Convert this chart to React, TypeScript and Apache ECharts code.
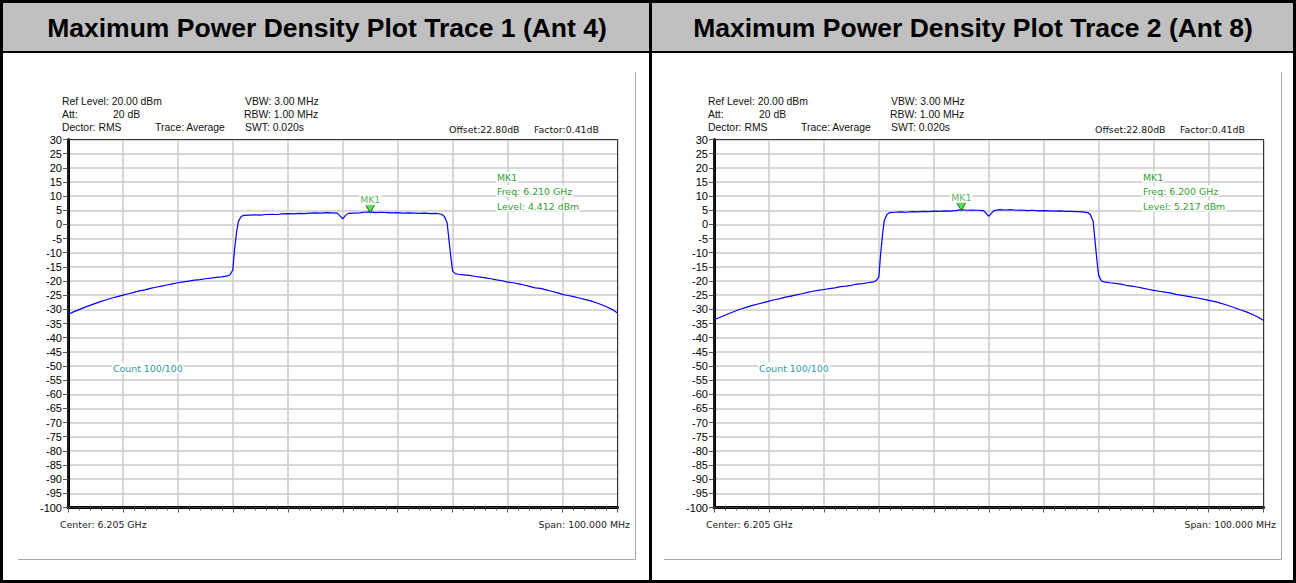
import React, { useEffect, useRef } from "react";
import * as echarts from "echarts";

// Frequency offset from start of span (MHz); span 6.155 GHz .. 6.255 GHz
const FREQ_MHZ = [
  0, 1, 2, 3, 4, 5, 6, 7, 8, 9, 10, 11, 12, 13, 14, 15, 16, 17, 18, 19, 20, 21, 22, 23, 24, 25, 26, 27, 28, 29,
  29.5, 30, 30.3, 30.7, 31, 31.5,
  32, 33, 34, 35, 36, 37, 38, 39, 40, 41, 42, 43, 44, 45, 46, 47, 48, 49,
  49.5, 50, 50.5,
  51, 52, 53, 54, 55, 56, 57, 58, 59, 60, 61, 62, 63, 64, 65, 66, 67, 68,
  68.5, 69, 69.3, 69.7, 70, 70.5,
  71, 72, 73, 74, 75, 76, 77, 78, 79, 80, 81, 82, 83, 84, 85, 86, 87, 88, 89, 90, 91, 92, 93, 94, 95, 96, 97, 98, 99, 100,
];

const ANT4_DBM = [
  -31.8, -30.9, -30.1, -29.3, -28.6, -27.9, -27.2, -26.6, -26.0, -25.5, -25.0, -24.5, -24.0, -23.5, -23.1, -22.6, -22.2, -21.8, -21.4, -21.0, -20.6, -20.3, -20.0, -19.7, -19.5, -19.2, -19.0, -18.7, -18.5, -18.2,
  -17.8, -16.0, -9.0, -2.5, 1.0, 2.8,
  3.2, 3.3, 3.4, 3.3, 3.5, 3.6, 3.5, 3.7, 3.8, 3.7, 3.9, 3.8, 4.0, 4.1, 4.0, 4.2, 4.1, 4.0,
  3.0, 2.0, 3.2,
  3.9, 4.0, 4.1, 4.3, 4.412, 4.2, 4.3, 4.2, 4.1, 4.2, 4.0, 4.1, 4.0, 3.9, 4.0, 3.8, 3.9, 3.6,
  2.8, 0.5, -5.0, -12.0, -16.5, -17.4,
  -17.6, -17.8, -18.0, -18.3, -18.6, -18.9, -19.2, -19.6, -19.9, -20.4, -20.6, -21.0, -21.4, -21.9, -22.4, -22.6, -23.1, -23.6, -24.1, -24.7, -25.1, -25.5, -26.0, -26.5, -26.9, -27.6, -28.3, -29.1, -30.0, -31.3,
];

const ANT8_DBM = [
  -33.7, -32.9, -32.1, -31.3, -30.5, -29.8, -29.2, -28.6, -28.1, -27.6, -27.1, -26.6, -26.2, -25.7, -25.3, -24.9, -24.5, -24.0, -23.6, -23.3, -23.0, -22.7, -22.4, -22.0, -21.8, -21.5, -21.1, -20.9, -20.6, -20.3,
  -19.9, -18.5, -11.0, -3.0, 1.5, 3.6,
  4.2, 4.3, 4.4, 4.3, 4.5, 4.4, 4.6, 4.5, 4.7, 4.6, 4.8, 4.7, 4.9, 5.217, 5.0, 5.1, 5.0, 4.9,
  4.0, 2.8, 4.0,
  4.9, 5.2, 5.1, 5.2, 5.0, 5.1, 4.9, 5.0, 4.8, 4.9, 4.8, 4.7, 4.8, 4.6, 4.6, 4.5, 4.4, 4.2,
  3.4, 1.0, -5.0, -13.0, -18.0, -20.0,
  -20.3, -20.6, -20.8, -21.1, -21.5, -21.8, -22.1, -22.5, -22.9, -23.3, -23.6, -23.9, -24.2, -24.7, -25.0, -25.3, -25.7, -26.0, -26.4, -26.8, -27.2, -27.7, -28.3, -28.9, -29.6, -30.3, -31.0, -31.8, -32.7, -33.9,
];

const TRACES = [ANT4_DBM, ANT8_DBM];
const TITLES = [
  "Maximum Power Density Plot Trace 1 (Ant 4)",
  "Maximum Power Density Plot Trace 2 (Ant 8)",
];
const MARKER_FREQ_MHZ = [55, 45];
const MARKER_LEVEL_DBM = [4.412, 5.217];
const MARKER_FREQ_TEXT = ["6.210 GHz", "6.200 GHz"];

const X_MIN = 0;
const X_MAX = 100;
const X_STEP = 10;
const Y_MIN = -100;
const Y_MAX = 30;
const Y_STEP = 5;

const PANEL_DX = [0, 646];
const GRID_LEFT = 68;
const GRID_TOP = 139.5;
const GRID_W = 549.5;
const GRID_H = 368;

const SANS = "Liberation Sans";
const TAHOMA = "DejaVu Sans";

function txt(x: number, y: number, text: string, opts: any = {}) {
  return {
    type: "text",
    x,
    y,
    z: 100,
    silent: true,
    style: {
      text,
      fill: opts.fill || "#000",
      fontFamily: opts.fontFamily || SANS,
      fontSize: opts.fontSize || 10.3,
      fontWeight: opts.fontWeight || "normal",
      align: opts.align || "left",
      verticalAlign: "middle",
      backgroundColor: opts.bg,
      padding: opts.bg ? [1, 1] : 0,
    },
  };
}

function panelGraphics(p: number) {
  const dx = PANEL_DX[p];
  const g: any[] = [];
  const info = { fontFamily: SANS, fontSize: 10.4, fill: "#111" };
  const tah = { fontFamily: TAHOMA, fontSize: 9.4, fill: "#111" };
  const green = { fontFamily: TAHOMA, fontSize: 9.4, fill: "#30a030", bg: "#fff" };
  g.push(txt(62 + dx, 101, "Ref Level: 20.00 dBm", info));
  g.push(txt(62 + dx, 114, "Att:", info));
  g.push(txt(113 + dx, 114, "20 dB", info));
  g.push(txt(62 + dx, 127, "Dector: RMS", info));
  g.push(txt(155 + dx, 127, "Trace: Average", info));
  g.push(txt(245 + dx, 101, "VBW: 3.00 MHz", info));
  g.push(txt(244 + dx, 114, "RBW: 1.00 MHz", info));
  g.push(txt(245 + dx, 127, "SWT: 0.020s", info));
  g.push(txt(449 + dx, 129, "Offset:22.80dB", tah));
  g.push(txt(534 + dx, 129, "Factor:0.41dB", tah));
  g.push(txt(496 + dx, 177, "MK1", green));
  g.push(txt(496 + dx, 191, "Freq: " + MARKER_FREQ_TEXT[p], green));
  g.push(txt(496 + dx, 206, "Level: " + MARKER_LEVEL_DBM[p].toFixed(3) + " dBm", green));
  g.push(txt(112 + dx, 368, "Count 100/100", { ...tah, fill: "#2a9aa4", bg: "#fff" }));
  g.push(txt(60 + dx, 524, "Center: 6.205 GHz", { ...tah, fill: "#222" }));
  g.push(txt(630 + dx, 524, "Span: 100.000 MHz", { ...tah, fill: "#222", align: "right" }));
  // plot frame (top/right thin)
  g.push({
    type: "rect",
    z: 90,
    silent: true,
    shape: { x: GRID_LEFT + dx, y: GRID_TOP, width: GRID_W, height: GRID_H },
    style: { fill: "none", stroke: "#333", lineWidth: 1 },
  });
  // screenshot frame (right + bottom)
  g.push({
    type: "polyline",
    z: 90,
    silent: true,
    shape: { points: [[635.5 + dx, 72], [635.5 + dx, 559.5], [18 + dx, 559.5]] },
    style: { fill: "none", stroke: "#a8a8a8", lineWidth: 1 },
  });
  // title
  g.push(
    txt(p === 0 ? 327 : 973, 28, TITLES[p], {
      fontFamily: SANS,
      fontSize: 26.5,
      fontWeight: "bold",
      align: "center",
    })
  );
  return g;
}

function buildOption() {
  const graphic: any[] = [
    { type: "rect", z: 1, silent: true, shape: { x: 3, y: 3, width: 646, height: 48 }, style: { fill: "#c0c0c0" } },
    { type: "rect", z: 1, silent: true, shape: { x: 652, y: 3, width: 641, height: 48 }, style: { fill: "#c0c0c0" } },
    { type: "rect", z: 95, silent: true, shape: { x: 1.5, y: 1.5, width: 1293, height: 580 }, style: { fill: "none", stroke: "#000", lineWidth: 3 } },
    { type: "line", z: 95, silent: true, shape: { x1: 650.5, y1: 0, x2: 650.5, y2: 583 }, style: { stroke: "#000", lineWidth: 3 } },
    { type: "line", z: 95, silent: true, shape: { x1: 0, y1: 52, x2: 1296, y2: 52 }, style: { stroke: "#000", lineWidth: 2 } },
    ...panelGraphics(0),
    ...panelGraphics(1),
  ];

  const grid = PANEL_DX.map((dx) => ({
    left: GRID_LEFT + dx,
    top: GRID_TOP,
    width: GRID_W,
    height: GRID_H,
    containLabel: false,
  }));

  const xAxis = PANEL_DX.map((_, i) => ({
    type: "value",
    gridIndex: i,
    min: X_MIN,
    max: X_MAX,
    interval: X_STEP,
    axisLabel: { show: false },
    axisLine: { show: true, onZero: false, lineStyle: { color: "#000", width: 3 } },
    axisTick: { show: true, length: 5, lineStyle: { color: "#555" } },
    minorTick: { show: true, splitNumber: 5, length: 3, lineStyle: { color: "#555" } },
    splitLine: { show: true, lineStyle: { color: "#cbcbcb", width: 1.5 } },
  }));

  const yAxis = PANEL_DX.map((_, i) => ({
    type: "value",
    gridIndex: i,
    min: Y_MIN,
    max: Y_MAX,
    interval: Y_STEP,
    axisLabel: { show: true, color: "#000", fontFamily: SANS, fontSize: 11, margin: 6 },
    axisLine: { show: true, onZero: false, lineStyle: { color: "#000", width: 3 } },
    axisTick: { show: true, length: 5, lineStyle: { color: "#555" } },
    splitLine: { show: true, lineStyle: { color: "#cbcbcb", width: 1.5 } },
  }));

  const series: any[] = [];
  TRACES.forEach((trace, i) => {
    series.push({
      type: "line",
      xAxisIndex: i,
      yAxisIndex: i,
      data: FREQ_MHZ.map((f, k) => [f, trace[k]]),
      showSymbol: false,
      symbol: "none",
      silent: true,
      lineStyle: { color: "#0000ff", width: 1.2 },
      z: 3,
    });
    series.push({
      type: "scatter",
      xAxisIndex: i,
      yAxisIndex: i,
      data: [[MARKER_FREQ_MHZ[i], MARKER_LEVEL_DBM[i]]],
      symbol: "triangle",
      symbolRotate: 180,
      symbolSize: [9, 8],
      symbolOffset: [0, -3],
      silent: true,
      itemStyle: { color: "#22e022", borderColor: "#1f5a1f", borderWidth: 1 },
      label: {
        show: true,
        position: "top",
        distance: -1,
        formatter: "MK1",
        color: "#30a030",
        fontFamily: TAHOMA,
        fontSize: 9.4,
        backgroundColor: "#fff",
        padding: [1, 1],
      },
      z: 5,
    });
  });

  return {
    animation: false,
    backgroundColor: "#fff",
    grid,
    xAxis,
    yAxis,
    series,
    graphic,
  };
}

export default function App() {
  const ref = useRef<HTMLDivElement>(null);
  useEffect(() => {
    document.body.style.margin = "0";
    const chart = echarts.init(ref.current as HTMLDivElement, null, { renderer: "svg" });
    chart.setOption(buildOption() as any);
    return () => chart.dispose();
  }, []);
  return <div ref={ref} style={{ width: 1296, height: 583 }} />;
}
